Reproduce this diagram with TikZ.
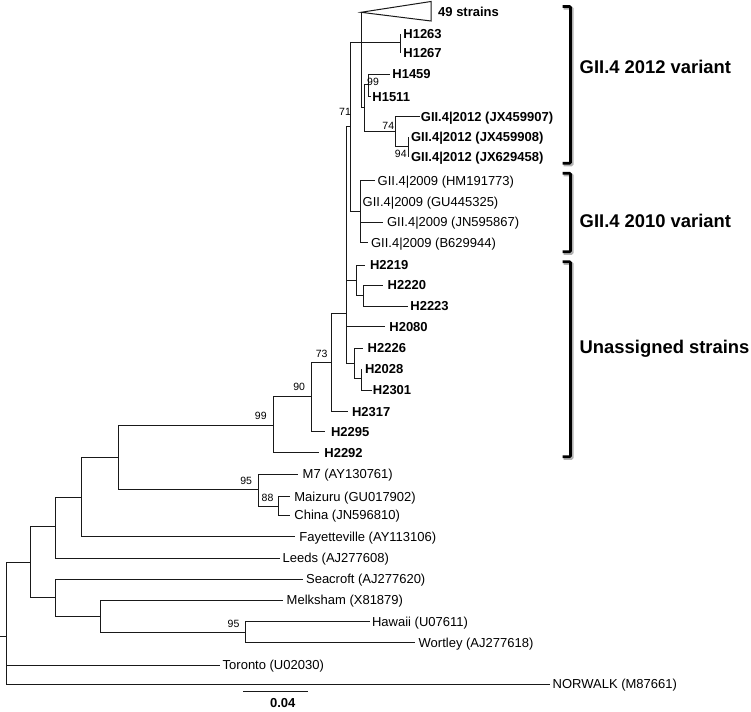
\documentclass[tikz,border=0pt]{standalone}
\usepackage{fontspec}
\setmainfont{Liberation Sans}
\newcommand{\leafat}[6]{%
  \coordinate (t#1) at (#2,#3);
  \node[#5] (#1) at (#4-0.8,#3) {#6};}
\begin{document}
\begin{tikzpicture}[x=1pt,y=-1pt,
  br/.style={line width=1pt, draw=black!90},
  lf/.style={anchor=west, inner sep=0pt, text height=9.3pt, text depth=0pt, font=\fontsize{13}{13}\selectfont},
  lfb/.style={lf, font=\fontsize{13}{13}\selectfont\bfseries},
  bs/.style={inner sep=0pt, font=\fontsize{10.5}{10.5}\selectfont},
  grp/.style={anchor=west, inner sep=0pt, text height=13.2pt, text depth=0pt, font=\fontsize{18.4}{18.4}\selectfont\bfseries},
  brk/.style={line width=2.7pt, draw=black, rounded corners=1pt},
  brks/.style={line width=3.4pt, draw=black!30, rounded corners=1pt}]
\useasboundingbox (0,0) rectangle (751,711);

% internal nodes
\coordinate (rs) at (0,636.7);
\coordinate (root) at (6.7,636.7);
\coordinate (S) at (30,562.7);
\coordinate (R) at (55,526.7);
\coordinate (T) at (55,597.3);
\coordinate (Q) at (81.7,497.3);
\coordinate (P) at (118.3,457.7);
\coordinate (n99) at (273.3,425);
\coordinate (n95a) at (258.3,489.3);
\coordinate (n88) at (278.3,506);
\coordinate (n90) at (311.7,396.7);
\coordinate (n73) at (331.7,362.7);
\coordinate (U) at (346,313.3);
\coordinate (n71) at (350,127);
\coordinate (n2219) at (356.7,280);
\coordinate (n2220) at (363.3,295);
\coordinate (n2226) at (354.3,363.3);
\coordinate (n2028) at (361.7,378.3);
\coordinate (n2009) at (360,211.7);
\coordinate (A) at (361,42.7);
\coordinate (nH) at (400,42.7);
\coordinate (B) at (364,108);
\coordinate (n99b) at (368.3,85);
\coordinate (n74) at (395,131.7);
\coordinate (n94) at (408.3,146.7);
\coordinate (U2) at (100,616);
\coordinate (n95c) at (245,632.3);

% leaves
\coordinate (tTri) at (361,12.3);
\coordinate (triA) at (431,1.5);
\coordinate (triB) at (431,21);
\node[lfb] (strains) at (438,12.3) {49 strains};
\leafat{H1263}{400}{34}{404}{lfb}{H1263}
\leafat{H1267}{400}{52.8}{404}{lfb}{H1267}
\leafat{H1459}{390}{74.2}{393}{lfb}{H1459}
\leafat{H1511}{370.5}{96.7}{373}{lfb}{H1511}
\leafat{JXa}{420}{116.7}{421.5}{lfb}{GII.4|2012 (JX459907)}
\leafat{JXb}{408.3}{136.7}{411.7}{lfb}{GII.4|2012 (JX459908)}
\leafat{JXc}{408.3}{156.7}{411.7}{lfb}{GII.4|2012 (JX629458)}
\leafat{HM}{375}{180.7}{378.3}{lf}{GII.4|2009 (HM191773)}
\leafat{GU}{361}{201.7}{363.3}{lf}{GII.4|2009 (GU445325)}
\leafat{JN}{383.3}{222.3}{387.7}{lf}{GII.4|2009 (JN595867)}
\leafat{Bsix}{368.3}{242.7}{371.7}{lf}{GII.4|2009 (B629944)}
\leafat{H2219}{365}{265}{370.7}{lfb}{H2219}
\leafat{H2220}{383.3}{285}{388.3}{lfb}{H2220}
\leafat{H2223}{408.3}{306}{411}{lfb}{H2223}
\leafat{H2080}{385}{326.7}{390}{lfb}{H2080}
\leafat{H2226}{363.3}{348.3}{368.3}{lfb}{H2226}
\leafat{H2028}{361.7}{369}{365.7}{lfb}{H2028}
\leafat{H2301}{371.7}{390}{373.5}{lfb}{H2301}
\leafat{H2317}{348.3}{411.7}{352.7}{lfb}{H2317}
\leafat{H2295}{325}{431.7}{331.7}{lfb}{H2295}
\leafat{H2292}{319}{452.7}{325}{lfb}{H2292}
\leafat{M7}{298.3}{474.3}{303.3}{lf}{M7 (AY130761)}
\leafat{Maizuru}{290}{496.7}{295}{lf}{Maizuru (GU017902)}
\leafat{China}{290}{515}{295}{lf}{China (JN596810)}
\leafat{Fay}{295}{536.7}{300}{lf}{Fayetteville (AY113106)}
\leafat{Leeds}{280}{558.3}{283.3}{lf}{Leeds (AJ277608)}
\leafat{Sea}{303.3}{579.3}{306.7}{lf}{Seacroft (AJ277620)}
\leafat{Mel}{283.3}{600}{287.3}{lf}{Melksham (X81879)}
\leafat{Haw}{370}{621.7}{372.7}{lf}{Hawaii (U07611)}
\leafat{Wor}{415}{642.7}{419.3}{lf}{Wortley (AJ277618)}
\leafat{Tor}{220}{665}{223.3}{lf}{Toronto (U02030)}
\leafat{Nor}{550}{684.3}{553.3}{lf}{NORWALK (M87661)}

% branches
\draw[br] (rs) -- (root);
\draw[br] (root) |- (S);
\draw[br] (root) |- (tTor);
\draw[br] (root) |- (tNor);
\draw[br] (S) |- (R);
\draw[br] (S) |- (T);
\draw[br] (R) |- (Q);
\draw[br] (R) |- (tLeeds);
\draw[br] (Q) |- (P);
\draw[br] (Q) |- (tFay);
\draw[br] (P) |- (n99);
\draw[br] (P) |- (n95a);
\draw[br] (n95a) |- (tM7);
\draw[br] (n95a) |- (n88);
\draw[br] (n88) |- (tMaizuru);
\draw[br] (n88) |- (tChina);
\draw[br] (n99) |- (n90);
\draw[br] (n99) |- (tH2292);
\draw[br] (n90) |- (n73);
\draw[br] (n90) |- (tH2295);
\draw[br] (n73) |- (U);
\draw[br] (n73) |- (tH2317);
\draw[br] (U) |- (n71);
\draw[br] (U) |- (n2219);
\draw[br] (U) |- (tH2080);
\draw[br] (U) |- (n2226);
\draw[br] (n2219) |- (tH2219);
\draw[br] (n2219) |- (n2220);
\draw[br] (n2220) |- (tH2220);
\draw[br] (n2220) |- (tH2223);
\draw[br] (n2226) |- (tH2226);
\draw[br] (n2226) |- (n2028);
\draw[br] (n2028) |- (tH2028);
\draw[br] (n2028) |- (tH2301);
\draw[br] (n71) |- (A);
\draw[br] (n71) |- (n2009);
\draw[br] (n2009) |- (tHM);
\draw[br] (n2009) |- (tGU);
\draw[br] (n2009) |- (tJN);
\draw[br] (n2009) |- (tBsix);
\draw[br] (A) |- (tTri);
\draw[br] (A) |- (nH);
\draw[br] (A) |- (B);
\draw[br] (nH) |- (tH1263);
\draw[br] (nH) |- (tH1267);
\draw[br] (B) |- (n99b);
\draw[br] (B) |- (n74);
\draw[br] (n99b) |- (tH1459);
\draw[br] (n99b) |- (tH1511);
\draw[br] (n74) |- (tJXa);
\draw[br] (n74) |- (n94);
\draw[br] (n94) |- (tJXb);
\draw[br] (n94) |- (tJXc);
\draw[br] (T) |- (tSea);
\draw[br] (T) |- (U2);
\draw[br] (U2) |- (tMel);
\draw[br] (U2) |- (n95c);
\draw[br] (n95c) |- (tHaw);
\draw[br] (n95c) |- (tWor);
\draw[br, line join=miter] (tTri) -- (triA) -- (triB) -- cycle;

% bootstrap values
\node[bs] (b71) at (345,112) {71};
\node[bs] (b99a) at (373,81.7) {99};
\node[bs] (b74) at (388.3,126) {74};
\node[bs] (b94) at (400.8,154) {94};
\node[bs] (b73) at (321.7,354) {73};
\node[bs] (b90) at (299.2,387.3) {90};
\node[bs] (b99b) at (260.8,416) {99};
\node[bs] (b95a) at (246.2,481) {95};
\node[bs] (b88) at (267.5,497.7) {88};
\node[bs] (b95b) at (233.5,624.3) {95};

% scale bar
\coordinate (sb1) at (243.3,691.7);
\coordinate (sb2) at (308.3,691.7);
\draw[br] (sb1) -- (sb2);
\node[inner sep=0pt, font=\fontsize{13}{13}\selectfont\bfseries] (sbl) at (282.7,703.3) {0.04};

% group brackets
\foreach \ya/\yb in {6.5/163.3, 173.3/251.7, 261.7/456.7}{
  \draw[brks] (563.5,\ya+1.5) -- (572,\ya+1.5) -- (572,\yb+1.5) -- (563.5,\yb+1.5);
  \draw[brk] (562.5,\ya) -- (570.5,\ya) -- (570.5,\yb) -- (562.5,\yb);
}
\node[grp] (g2012) at (579.5,66.7) {GII.4 2012 variant};
\node[grp] (g2010) at (579.5,220.7) {GII.4 2010 variant};
\node[grp] (gun) at (579.5,346.7) {Unassigned strains};
\end{tikzpicture}
\end{document}
